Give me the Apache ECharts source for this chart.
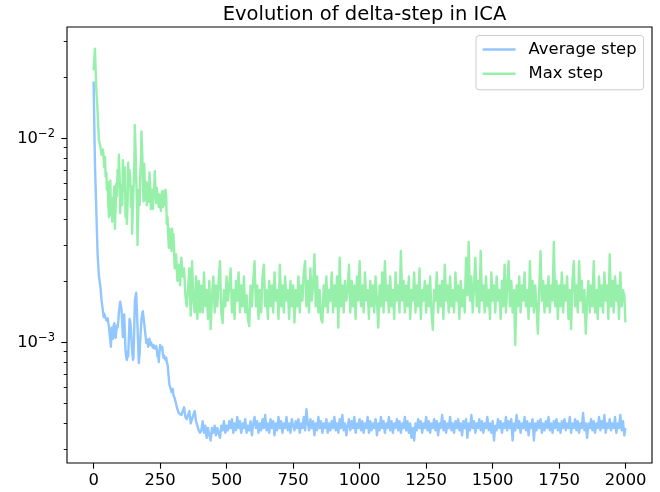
<!DOCTYPE html>
<html>
<head>
<meta charset="utf-8">
<script src="https://cdn.jsdelivr.net/npm/echarts@6/dist/echarts.min.js"></script>
<style>html,body{margin:0;padding:0;background:#fff}#c{width:660px;height:492px}</style>
</head>
<body>
<div id="c"></div>
<script>
var chartTitle = 'Evolution of delta-step in ICA';
var seriesNames = ['Average step', 'Max step'];
var xTickValues = [0, 250, 500, 750, 1000, 1250, 1500, 1750, 2000];
var yMajorTicks = [0.001, 0.01];
var yMinorTicks = [0.0003, 0.0004, 0.0005, 0.0006, 0.0007, 0.0008, 0.0009,
  0.002, 0.003, 0.004, 0.005, 0.006, 0.007, 0.008, 0.009, 0.02, 0.03];

var steps = [
  0,5,10,15,20,25,30,35,
  38,40,43,45,48,50,53,55,58,60,63,65,68,70,73,75,78,80,83,85,88,90,93,95,98,100,
  103,105,108,110,113,115,118,120,123,125,128,130,133,135,138,140,143,145,148,150,
  153,155,158,160,163,165,168,170,173,175,178,180,183,185,188,190,193,195,198,200,
  203,205,208,210,213,215,218,220,223,225,228,230,233,235,238,240,243,245,248,250,
  253,255,258,260,263,265,268,270,273,275,278,280,283,285,288,290,293,295,298,300,
  305,310,315,320,325,330,335,340,345,350,355,360,365,370,375,380,385,390,395,400,
  405,410,415,420,425,430,435,440,445,450,
  455,460,465,470,475,480,485,490,495,500,
  505,510,515,520,525,530,535,540,545,550,
  555,560,565,570,575,580,585,590,595,600,
  605,610,615,620,625,630,635,640,645,650,
  655,660,665,670,675,680,685,690,695,700,
  705,710,715,720,725,730,735,740,745,750,
  755,760,765,770,775,780,785,790,795,800,
  805,810,815,820,825,830,835,840,845,850,
  855,860,865,870,875,880,885,890,895,900,
  905,910,915,920,925,930,935,940,945,950,
  955,960,965,970,975,980,985,990,995,1000,
  1005,1010,1015,1020,1025,1030,1035,1040,1045,1050,
  1055,1060,1065,1070,1075,1080,1085,1090,1095,1100,
  1105,1110,1115,1120,1125,1130,1135,1140,1145,1150,
  1155,1160,1165,1170,1175,1180,1185,1190,1195,1200,
  1205,1210,1215,1220,1225,1230,1235,1240,1245,1250,
  1255,1260,1265,1270,1275,1280,1285,1290,1295,1300,
  1305,1310,1315,1320,1325,1330,1335,1340,1345,1350,
  1355,1360,1365,1370,1375,1380,1385,1390,1395,1400,
  1405,1410,1415,1420,1425,1430,1435,1440,1445,1450,
  1455,1460,1465,1470,1475,1480,1485,1490,1495,1500,
  1505,1510,1515,1520,1525,1530,1535,1540,1545,1550,
  1555,1560,1565,1570,1575,1580,1585,1590,1595,1600,
  1605,1610,1615,1620,1625,1630,1635,1640,1645,1650,
  1655,1660,1665,1670,1675,1680,1685,1690,1695,1700,
  1705,1710,1715,1720,1725,1730,1735,1740,1745,1750,
  1755,1760,1765,1770,1775,1780,1785,1790,1795,1800,
  1805,1810,1815,1820,1825,1830,1835,1840,1845,1850,
  1855,1860,1865,1870,1875,1880,1885,1890,1895,1900,
  1905,1910,1915,1920,1925,1930,1935,1940,1945,1950,
  1955,1960,1965,1970,1975,1980,1985,1990,1995,1999
];

var averageStep = [
  0.019,0.0075,0.0045,0.0027,0.0021,0.0019,0.0016,0.00142,
  0.00133,0.00138,0.00141,0.00135,0.00128,0.0013,0.00131,0.00125,0.00119,0.0011,0.00102,0.00095,0.00118,
  0.0011,0.00104,0.0012,0.00124,0.00113,0.00105,0.00112,0.00121,0.00118,0.00128,0.0014,0.00152,0.00158,
  0.0015,0.00145,0.0012,0.00106,0.00122,0.00137,0.00108,0.0009,0.00084,0.00082,
  0.0009,0.00085,0.0011,0.0013,0.00126,0.00118,0.00098,0.0009,0.00082,0.00085,
  0.0012,0.0016,0.00168,0.00175,0.0014,0.0012,0.00092,0.00079,0.00088,0.001,
  0.00118,0.0013,0.00138,0.00142,0.00131,0.00125,0.00114,0.00108,0.00099,0.00101,
  0.00103,0.00095,0.00099,0.00104,0.00097,0.001,0.00102,0.00098,0.00094,0.00097,
  0.00099,0.00093,0.00091,0.00096,0.00092,0.00085,0.00088,0.0008,0.00091,0.00097,
  0.00092,0.00094,0.00095,0.00088,0.00084,0.00086,0.00087,0.00082,0.00084,0.0008,
  0.00078,0.00073,0.00066,0.00062,0.00063,0.00059,0.00057,0.00058,0.00059,0.00055,
  0.00053,0.0005,0.00047,0.00045,0.00046,0.00044,0.00046,0.00048,0.00043,0.00042,
  0.00044,0.00046,0.0004,0.00042,0.00044,0.00046,0.00041,0.00039,0.00037,0.00036,
  0.00037,0.00041,0.00036,0.00039,0.00034,0.00038,0.00035,0.00033,0.00038,0.00036,
  0.00039,0.00035,0.00038,0.00036,0.00034,0.00039,0.00037,0.00041,0.00036,0.00039,
  0.00037,0.00041,0.00038,0.00042,0.00036,0.0004,0.00037,0.00043,0.00038,0.00041,
  0.00036,0.0004,0.00038,0.00042,0.00036,0.00039,0.00037,0.00041,0.00035,0.0004,
  0.00043,0.00038,0.00041,0.00036,0.0004,0.00037,0.00042,0.00038,0.00044,0.00037,
  0.0004,0.00036,0.00042,0.00038,0.00041,0.00035,0.0004,0.00037,0.00043,0.00038,
  0.00041,0.00036,0.0004,0.00038,0.00043,0.00037,0.0004,0.00036,0.00042,0.00039,
  0.00037,0.00041,0.00038,0.00042,0.00036,0.0004,0.00038,0.00043,0.00037,0.00047,
  0.0004,0.00037,0.00042,0.00038,0.00041,0.00035,0.0004,0.00037,0.00043,0.00038,
  0.00041,0.00036,0.0004,0.00038,0.00042,0.00036,0.0004,0.00037,0.00041,0.00038,
  0.00043,0.00037,0.0004,0.00036,0.00042,0.00038,0.00044,0.00037,0.0004,0.00035,
  0.00039,0.00042,0.00037,0.00041,0.00038,0.00043,0.00036,0.0004,0.00038,0.00042,
  0.00037,0.00041,0.00036,0.0004,0.00038,0.00043,0.00036,0.00041,0.00037,0.0004,
  0.00038,0.00042,0.00035,0.0004,0.00037,0.00043,0.00038,0.00041,0.00036,0.0004,
  0.00038,0.00043,0.00037,0.00041,0.00036,0.0004,0.00038,0.00042,0.00037,0.00041,
  0.00036,0.0004,0.00038,0.00043,0.00037,0.00041,0.00036,0.0004,0.00034,0.00038,
  0.00033,0.0004,0.00037,0.00042,0.00038,0.00041,0.00036,0.0004,0.00038,0.00043,
  0.00037,0.00041,0.00036,0.0004,0.00038,0.00042,0.00037,0.00041,0.00035,0.0004,
  0.00038,0.00044,0.00037,0.00041,0.00036,0.0004,0.00038,0.00043,0.00037,0.0004,
  0.00036,0.00041,0.00038,0.00042,0.00037,0.0004,0.00035,0.00041,0.00038,0.00042,
  0.00034,0.0004,0.00037,0.00044,0.00038,0.00041,0.00036,0.0004,0.00038,0.00042,
  0.00037,0.00041,0.00036,0.0004,0.00038,0.00043,0.00037,0.0004,0.00036,0.00041,
  0.00033,0.00039,0.00037,0.00042,0.00038,0.00041,0.00036,0.0004,0.00038,0.00043,
  0.00037,0.00041,0.00038,0.00042,0.00033,0.0004,0.00037,0.00044,0.00038,0.00041,
  0.00036,0.0004,0.00038,0.00043,0.00037,0.00041,0.00035,0.0004,0.00038,0.00042,
  0.00033,0.0004,0.00037,0.00041,0.00038,0.00042,0.00036,0.0004,0.00037,0.00041,
  0.00038,0.00043,0.00037,0.0004,0.00036,0.00041,0.00038,0.00042,0.00037,0.0004,
  0.00036,0.00041,0.00038,0.00042,0.00037,0.0004,0.00038,0.00043,0.00036,0.0004,
  0.00038,0.00042,0.00037,0.00041,0.00036,0.0004,0.00038,0.00045,0.00037,0.0004,
  0.00034,0.0004,0.00038,0.00042,0.00037,0.00041,0.00036,0.0004,0.00038,0.00043,
  0.00037,0.00041,0.00038,0.00044,0.00036,0.0004,0.00038,0.00042,0.00037,0.0004,
  0.00038,0.00043,0.00036,0.0004,0.00038,0.00044,0.00037,0.00041,0.00035,0.00038
];

var maxStep = [
  0.0215,0.0275,0.0175,0.0135,0.0098,0.0092,0.0083,0.0088,
  0.0079,0.0072,0.0081,0.0065,0.0068,0.0056,0.0061,0.0048,0.0041,0.0054,0.0062,0.0042,0.0051,
  0.0039,0.0045,0.005,0.0058,0.0036,0.0047,0.006,0.0052,0.007,0.0058,0.0083,0.0064,0.0043,
  0.0059,0.0054,0.0047,0.0078,0.0055,0.0065,0.0072,0.0041,0.0055,0.0038,
  0.0049,0.0076,0.0058,0.007,0.0062,0.0046,0.0058,0.0034,0.0048,0.0056,
  0.0072,0.0116,0.0085,0.0065,0.0048,0.003,0.0044,0.0056,0.0047,0.0065,
  0.0078,0.0108,0.0083,0.0062,0.0049,0.0075,0.0058,0.005,0.0061,0.0047,
  0.0053,0.006,0.0049,0.0068,0.0057,0.0045,0.0049,0.0056,0.0045,0.0052,
  0.0058,0.0069,0.0055,0.0048,0.0057,0.0052,0.0049,0.0046,0.0053,0.005,
  0.0044,0.0052,0.0055,0.0046,0.0049,0.0055,0.0047,0.0056,0.0052,0.0038,
  0.0041,0.0034,0.0029,0.0036,0.0034,0.0031,0.0028,0.0036,0.003,0.0034,
  0.0023,0.0027,0.002,0.0024,0.0019,0.0026,0.0021,0.0023,0.0017,0.0015,
  0.0018,0.0023,0.00135,0.0025,0.0016,0.0014,0.0021,0.0013,0.002,0.0014,
  0.0019,0.0014,0.0022,0.0015,0.0018,0.0013,0.002,0.00116,0.0017,0.0021,
  0.0014,0.0019,0.0015,0.002,0.0025,0.0014,0.00124,0.0018,0.0015,0.0021,
  0.0016,0.0019,0.0023,0.0014,0.0018,0.0013,0.002,0.0016,0.0022,0.0014,
  0.0019,0.0015,0.0021,0.0014,0.0017,0.0013,0.0012,0.0019,0.0015,0.002,
  0.0025,0.0015,0.0019,0.0013,0.0018,0.0014,0.0021,0.0024,0.0015,0.0018,
  0.0013,0.002,0.0015,0.0019,0.0014,0.0022,0.0016,0.0018,0.0013,0.0024,
  0.0015,0.0019,0.0014,0.0021,0.0016,0.0018,0.0013,0.002,0.0015,0.0019,
  0.00125,0.0018,0.0015,0.0021,0.0014,0.0019,0.0016,0.0022,0.0025,0.0015,
  0.002,0.0014,0.0023,0.0016,0.0019,0.0027,0.0015,0.0021,0.0014,0.0018,
  0.0013,0.00125,0.0019,0.0015,0.0021,0.0014,0.0018,0.0016,0.0022,0.0014,
  0.0019,0.0015,0.0021,0.00118,0.0026,0.0015,0.0019,0.0014,0.002,0.0016,
  0.0018,0.0024,0.0014,0.002,0.0015,0.0019,0.0013,0.0021,0.0016,0.0025,
  0.0015,0.0019,0.0014,0.0022,0.0016,0.0018,0.0013,0.002,0.0015,0.0019,
  0.0014,0.0021,0.0016,0.00118,0.0019,0.0015,0.0022,0.0014,0.0025,0.0016,
  0.0019,0.0014,0.0021,0.0015,0.0018,0.0013,0.0022,0.0016,0.0019,0.0014,
  0.0028,0.0016,0.002,0.0014,0.0019,0.0015,0.0021,0.0013,0.0018,0.0016,
  0.0022,0.0014,0.0019,0.0015,0.0023,0.0013,0.0018,0.0016,0.002,0.0014,
  0.0019,0.0015,0.0021,0.0014,0.00115,0.0018,0.0016,0.0022,0.0014,0.0019,
  0.0015,0.002,0.0013,0.0024,0.0016,0.0019,0.0014,0.0021,0.0015,0.0018,
  0.0014,0.0022,0.0016,0.0019,0.0013,0.002,0.0015,0.0018,0.0014,0.0026,
  0.0017,0.0031,0.0016,0.0021,0.0014,0.0019,0.0026,0.0015,0.002,0.0014,
  0.0028,0.0016,0.0019,0.0014,0.0021,0.0015,0.0018,0.0013,0.0022,0.0016,
  0.0019,0.0014,0.0021,0.0016,0.0018,0.0013,0.002,0.0015,0.0024,0.0014,
  0.0019,0.0025,0.0015,0.002,0.0014,0.0018,0.00097,0.0019,0.0015,0.0021,
  0.0014,0.0019,0.0016,0.0022,0.0015,0.0018,0.0013,0.0025,0.0015,0.002,
  0.0014,0.0019,0.0015,0.0011,0.0018,0.0028,0.0016,0.002,0.0014,0.0019,
  0.0015,0.0021,0.0014,0.0019,0.0016,0.0031,0.0015,0.002,0.0013,0.0019,
  0.0015,0.0022,0.0014,0.0019,0.0016,0.0021,0.0013,0.0018,0.00116,0.002,
  0.0025,0.0015,0.0019,0.0014,0.0025,0.0016,0.002,0.0014,0.0018,0.0011,
  0.0016,0.002,0.0014,0.0019,0.0015,0.0025,0.0014,0.0018,0.0013,0.0021,
  0.0015,0.0019,0.0014,0.0022,0.0016,0.0019,0.0013,0.0027,0.0015,0.002,
  0.0014,0.0021,0.0016,0.0019,0.0013,0.0022,0.0015,0.0018,0.0017,0.00125
];

function pairs(xs, ys) {
  var out = [];
  for (var i = 0; i < xs.length; i++) out.push([xs[i], ys[i]]);
  return out;
}

var FONT = 'DejaVu Sans';
var chart = echarts.init(document.getElementById('c'), null, {renderer: 'canvas'});
chart.setOption({
  animation: false,
  backgroundColor: '#fff',
  textStyle: {fontFamily: FONT},
  title: {
    text: chartTitle,
    left: 359.5,
    textAlign: 'center',
    top: 0,
    textStyle: {fontFamily: FONT, fontSize: 19.5, fontWeight: 'normal', color: '#000'}
  },
  legend: {
    data: seriesNames,
    orient: 'vertical',
    left: 476,
    top: 35.5,
    padding: [6, 7, 8, 6.6],
    itemWidth: 33,
    itemHeight: 2.4,
    itemGap: 8.3,
    icon: 'rect',
    backgroundColor: 'rgba(255,255,255,0.8)',
    borderColor: '#cccccc',
    borderWidth: 1,
    borderRadius: 3,
    textStyle: {fontFamily: FONT, fontSize: 16.4, color: '#000', lineHeight: 15, padding: [0, 0, 0, 8]}
  },
  grid: {
    left: 67, right: 8, top: 27, bottom: 29,
    show: true, borderColor: '#000', borderWidth: 1.1, backgroundColor: 'transparent'
  },
  xAxis: {
    type: 'value',
    min: -100,
    max: 2099,
    splitLine: {show: false},
    axisLine: {show: false, onZero: false},
    axisTick: {show: true, length: 5.7, customValues: xTickValues, lineStyle: {color: '#000', width: 1.1}},
    axisLabel: {
      customValues: xTickValues, margin: 10, fontFamily: FONT, fontSize: 16.4, color: '#000',
      formatter: function (v) { return String(v); }
    }
  },
  yAxis: [{
    type: 'log',
    logBase: 10,
    min: 0.000256,
    max: 0.0351,
    position: 'left',
    splitLine: {show: false},
    axisLine: {show: false, onZero: false},
    axisTick: {show: true, length: 5.7, customValues: yMajorTicks, lineStyle: {color: '#000', width: 1.1}},
    axisLabel: {
      customValues: yMajorTicks,
      margin: 12,
      color: '#000',
      formatter: function (v) {
        var e = Math.round(Math.log(v) / Math.LN10);
        return '{b|10}{s|\u2212' + Math.abs(e) + '}';
      },
      rich: {
        b: {fontFamily: FONT, fontSize: 16.4, lineHeight: 20, color: '#000'},
        s: {fontFamily: FONT, fontSize: 11.5, lineHeight: 9, verticalAlign: 'top', color: '#000'}
      }
    }
  }, {
    type: 'log',
    logBase: 10,
    min: 0.000256,
    max: 0.0351,
    position: 'left',
    offset: 0,
    splitLine: {show: false},
    axisLine: {show: false, onZero: false},
    axisLabel: {show: false},
    axisTick: {show: true, length: 3.3, customValues: yMinorTicks, lineStyle: {color: '#000', width: 0.9}}
  }],
  series: [{
    name: seriesNames[0],
    type: 'line',
    yAxisIndex: 0,
    showSymbol: false,
    symbol: 'none',
    color: '#92C6FF',
    lineStyle: {width: 2.4, color: '#92C6FF', join: 'round'},
    data: pairs(steps, averageStep)
  }, {
    name: seriesNames[1],
    type: 'line',
    yAxisIndex: 0,
    showSymbol: false,
    symbol: 'none',
    color: '#97F0AA',
    lineStyle: {width: 2.4, color: '#97F0AA', join: 'round'},
    data: pairs(steps, maxStep)
  }]
});
</script>
</body>
</html>
